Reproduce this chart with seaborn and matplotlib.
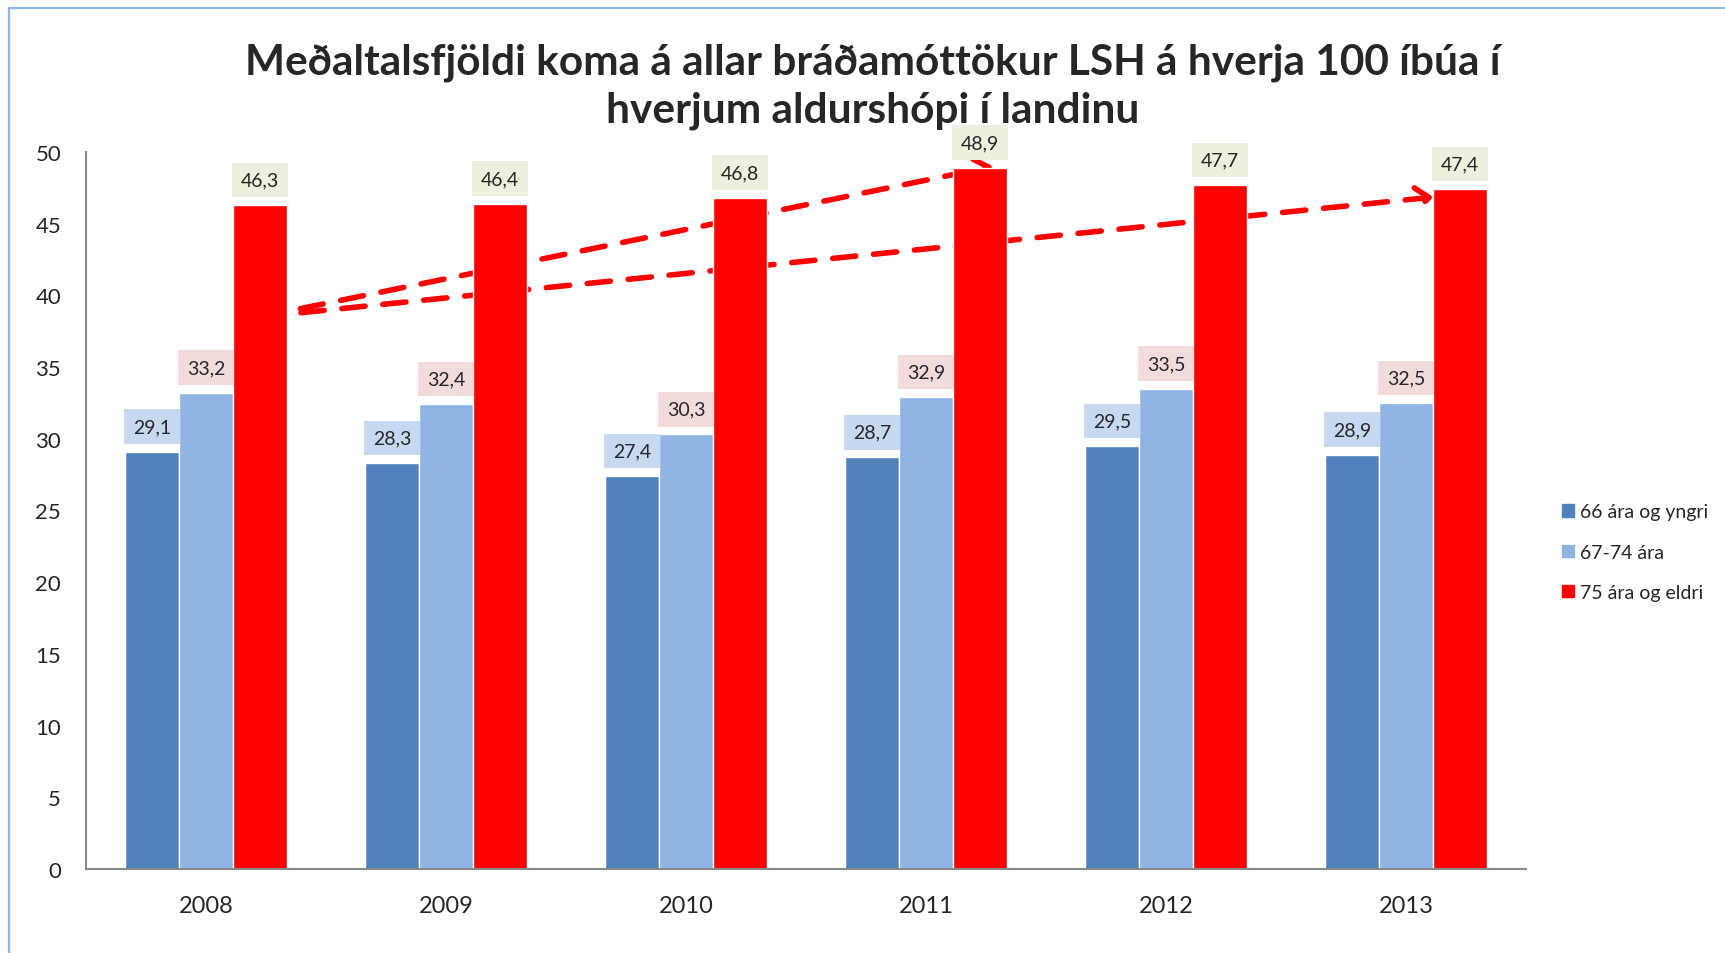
import matplotlib
matplotlib.use("Agg")
import matplotlib.pyplot as plt
import pandas as pd
import seaborn as sns
from matplotlib.lines import Line2D
from matplotlib.patches import Patch

YEARS = ["2008", "2009", "2010", "2011", "2012", "2013"]
GROUPS = ["66 ára og yngri", "67-74 ára", "75 ára og eldri"]
YOUNG = [29.1, 28.3, 27.4, 28.7, 29.5, 28.9]
MID = [33.2, 32.4, 30.3, 32.9, 33.5, 32.5]
OLD = [46.3, 46.4, 46.8, 48.9, 47.7, 47.4]
COLORS = ["#4F81BD", "#8EB4E3", "#FF0000"]
LABEL_BG = ["#C6D9F1", "#F2DCDB", "#EBF1DE"]
TITLE = ("Meðaltalsfjöldi koma á allar bráðamóttökur LSH á hverja 100 íbúa í\n"
         "hverjum aldurshópi í landinu")
# trend arrows (x in category units, y in data units)
ARROW_START = (0.225, 38.5)
ARROW_ENDS = [(3.28, 49.0), (5.115, 46.86)]

sns.set_theme(style="white")
plt.rcParams["font.family"] = ["Lato", "DejaVu Sans"]

df = pd.DataFrame({
    "ár": YEARS * 3,
    "hópur": [g for g in GROUPS for _ in YEARS],
    "gildi": YOUNG + MID + OLD,
})

fig = plt.figure(figsize=(17.25, 9.54), dpi=100)
ax = fig.add_axes([0.0499, 0.0881, 0.8347, 0.7515])
sns.barplot(df, x="ár", y="gildi", hue="hópur", palette=COLORS, saturation=1,
            width=0.675, gap=0, ax=ax, legend=False, zorder=2)

for cont, bg in zip(ax.containers, LABEL_BG):
    labels = [f"{b.get_height():.1f}".replace(".", ",") for b in cont]
    ax.bar_label(cont, labels=labels, padding=12, fontsize=14,
                 bbox=dict(boxstyle="square,pad=0.45", fc=bg, ec="none"), zorder=3)

for end in ARROW_ENDS:
    ax.annotate("", xy=end, xytext=ARROW_START, zorder=1,
                arrowprops=dict(arrowstyle="->,head_length=1.0,head_width=0.8",
                                color="#FF0000", lw=4, linestyle=(0, (4.2, 3.2)),
                                shrinkA=0, shrinkB=0, mutation_scale=10))

ax.set_xlim(-0.5, 5.5)
ax.set_ylim(0, 50)
ax.set_yticks(range(0, 51, 5))
ax.set_xlabel("")
ax.set_ylabel("")
ax.tick_params(axis="y", length=0, pad=18, labelsize=16)
ax.tick_params(axis="x", length=0, pad=19, labelsize=17)
for s in ("top", "right"):
    ax.spines[s].set_visible(False)
for s in ("left", "bottom"):
    ax.spines[s].set_color("#898989")
    ax.spines[s].set_linewidth(1.5)

handles = [Patch(color=c) for c in COLORS]
ax.legend(handles, GROUPS, loc="center left", bbox_to_anchor=(0.8956, 0.42),
          bbox_transform=fig.transFigure, frameon=False, fontsize=14,
          handlelength=0.6, handleheight=0.6, handletextpad=0.3, labelspacing=1.2)

fig.text(0.506, 0.909, TITLE, ha="center", va="center", fontsize=30.5,
         fontweight="bold", linespacing=1.32)

# chart-area border (only top and left visible in the crop)
bc = "#8EB4E3"
fig.add_artist(Line2D([9 / 1725, 9 / 1725], [0, 1 - 9 / 954], color=bc, lw=1.6))
fig.add_artist(Line2D([9 / 1725, 1], [1 - 9 / 954, 1 - 9 / 954], color=bc, lw=1.6))

fig.savefig("out.png", dpi=100)
